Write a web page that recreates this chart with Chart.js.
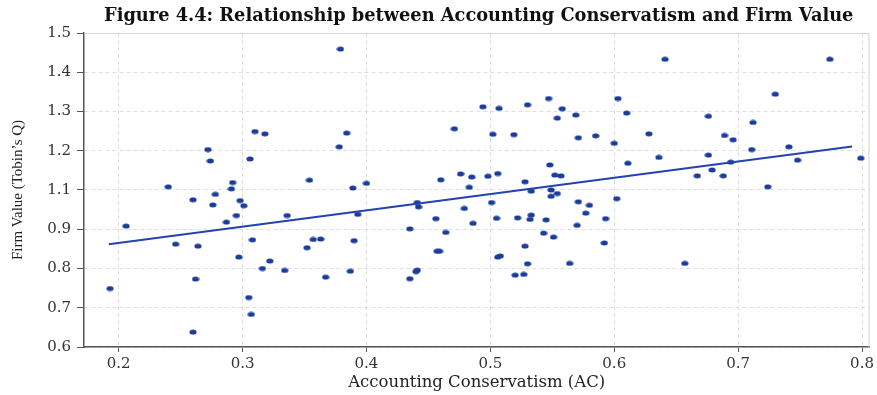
<!DOCTYPE html>
<html>
<head>
<meta charset="utf-8">
<script src="https://cdn.jsdelivr.net/npm/chart.js@4"></script>
<style>
  body { margin: 0; background: #fff; }
  #wrap { width: 877px; height: 395px; }
</style>
</head>
<body>
<div id="wrap"><canvas id="myChart"></canvas></div>
<script>
const ctx = document.getElementById("myChart");

// accounting conservatism (x) and firm value (y) for each firm
const acValues = [
  0.379, 0.310, 0.318, 0.384, 0.378, 0.272, 0.274, 0.306, 0.240, 0.292,
  0.291, 0.354, 0.389, 0.400, 0.260, 0.278, 0.276, 0.298, 0.301, 0.295,
  0.287, 0.206, 0.336, 0.393, 0.246, 0.264, 0.308, 0.352, 0.357, 0.363,
  0.390, 0.297, 0.322, 0.316, 0.334, 0.387, 0.367, 0.262, 0.193, 0.305,
  0.307, 0.260, 0.494, 0.507, 0.530, 0.547, 0.558, 0.554, 0.569, 0.471,
  0.502, 0.519, 0.571, 0.585, 0.600, 0.603, 0.548, 0.460, 0.476, 0.485,
  0.498, 0.506, 0.483, 0.528, 0.552, 0.557, 0.549, 0.533, 0.549, 0.554,
  0.441, 0.442, 0.501, 0.479, 0.602, 0.571, 0.580, 0.577, 0.456, 0.486,
  0.505, 0.522, 0.533, 0.532, 0.545, 0.593, 0.435, 0.464, 0.543, 0.551,
  0.570, 0.592, 0.528, 0.457, 0.459, 0.506, 0.508, 0.530, 0.564, 0.441,
  0.440, 0.435, 0.520, 0.527, 0.641, 0.774, 0.610, 0.730, 0.676, 0.712,
  0.628, 0.689, 0.696, 0.636, 0.611, 0.676, 0.711, 0.741, 0.748, 0.799,
  0.694, 0.667, 0.679, 0.688, 0.724, 0.657
];
const firmValues = [
  1.359, 1.149, 1.143, 1.145, 1.110, 1.103, 1.074, 1.079, 1.008, 1.019,
  1.003, 1.025, 1.005, 1.017, 0.975, 0.989, 0.962, 0.973, 0.960, 0.935,
  0.918, 0.908, 0.935, 0.938, 0.862, 0.857, 0.873, 0.853, 0.874, 0.875,
  0.871, 0.829, 0.819, 0.800, 0.795, 0.793, 0.778, 0.773, 0.749, 0.726,
  0.683, 0.638, 1.212, 1.208, 1.217, 1.233, 1.207, 1.183, 1.191, 1.156,
  1.142, 1.141, 1.133, 1.138, 1.119, 1.233, 1.064, 1.026, 1.041, 1.033,
  1.035, 1.042, 1.007, 1.021, 1.038, 1.036, 1.000, 0.997, 0.984, 0.991,
  0.968, 0.957, 0.968, 0.953, 0.978, 0.970, 0.961, 0.941, 0.927, 0.915,
  0.928, 0.929, 0.936, 0.925, 0.924, 0.927, 0.901, 0.892, 0.890, 0.880,
  0.910, 0.865, 0.857, 0.844, 0.844, 0.829, 0.832, 0.812, 0.813, 0.796,
  0.792, 0.774, 0.783, 0.785, 1.333, 1.333, 1.196, 1.244, 1.188, 1.172,
  1.143, 1.139, 1.128, 1.083, 1.068, 1.089, 1.103, 1.110, 1.076, 1.081,
  1.071, 1.036, 1.051, 1.036, 1.008, 0.813
];

// fitted line end points
const fitX = [0.192, 0.792];
const fitY = [0.862, 1.111];

const xTickValues = [0.2, 0.3, 0.4, 0.5, 0.6, 0.7, 0.8];
// the original figure skips the 1.0 label on its y axis
const yTickLabels = ["0.6", "0.7", "0.8", "0.9", "1.1", "1.2", "1.3", "1.4", "1.5"];

const chartTitle = "Figure 4.4: Relationship between Accounting Conservatism and Firm Value";

// the figure is stretched sideways, so the dots are small ellipses
const dot = document.createElement("canvas");
dot.width = 8;
dot.height = 6;
const dctx = dot.getContext("2d");
dctx.fillStyle = "#1a3c9c";
dctx.beginPath();
dctx.ellipse(4, 3, 3.6, 2.5, 0, 0, Math.PI * 2);
dctx.fill();

const serif = "'DejaVu Serif', 'Liberation Serif', serif";

// light frame on top and right, title centred over the plot area
const frame = {
  id: "frame",
  beforeDatasetsDraw(chart) {
    const { ctx: c, chartArea: a } = chart;
    c.save();
    c.strokeStyle = "#d4d4d4";
    c.lineWidth = 1;
    c.beginPath();
    c.moveTo(a.left, a.top + 0.5);
    c.lineTo(a.right - 0.5, a.top + 0.5);
    c.lineTo(a.right - 0.5, a.bottom);
    c.stroke();
    c.restore();
  },
  afterDraw(chart) {
    const { ctx: c, chartArea: a } = chart;
    c.save();
    c.font = "bold 17.8px " + serif;
    c.fillStyle = "#111";
    c.textAlign = "center";
    c.textBaseline = "middle";
    c.fillText(chartTitle, (a.left + a.right) / 2 + 2, 16);
    c.restore();
  },
};

new Chart(ctx, {
  type: "scatter",
  data: {
    datasets: [
      {
        type: "line",
        label: "Fitted",
        data: fitX.map((x, i) => ({ x: x, y: fitY[i] })),
        borderColor: "#2443b0",
        borderWidth: 2,
        pointRadius: 0,
        fill: false,
      },
      {
        label: "Firms",
        data: acValues.map((x, i) => ({ x: x, y: firmValues[i] })),
        pointStyle: dot,
        pointRadius: 3,
      },
    ],
  },
  plugins: [frame],
  options: {
    responsive: true,
    maintainAspectRatio: false,
    animation: false,
    layout: { padding: { top: 33, right: 4 } },
    plugins: {
      legend: { display: false },
      tooltip: { enabled: false },
      title: { display: false },
    },
    scales: {
      x: {
        type: "linear",
        min: 0.172,
        max: 0.806,
        afterBuildTicks: (s) => {
          s.ticks = xTickValues.map((v) => ({ value: v }));
        },
        afterFit: (s) => {
          s.height = 48;
        },
        ticks: {
          color: "#333",
          font: { family: serif, size: 15 },
          padding: 3,
          callback: (v) => String(v),
        },
        grid: {
          color: "#dedede",
          tickColor: "#555",
          tickLength: 5,
          tickBorderDash: [],
        },
        border: { color: "#555", width: 1.5, dash: [4, 3] },
        title: {
          display: true,
          text: "Accounting Conservatism (AC)",
          color: "#222",
          font: { family: serif, size: 16.5, lineHeight: 1.2 },
          padding: { top: 2.4, bottom: 2.4 },
        },
      },
      y: {
        type: "linear",
        min: 0.6,
        max: 1.4,
        ticks: {
          stepSize: 0.1,
          color: "#333",
          font: { family: serif, size: 15 },
          padding: 6,
          callback: (v, i) => yTickLabels[i],
        },
        afterFit: (s) => {
          s.width = 84;
        },
        grid: {
          color: "#dedede",
          tickColor: "#555",
          tickLength: 7,
          tickBorderDash: [],
        },
        border: { color: "#555", width: 1.5, dash: [4, 3] },
        title: {
          display: true,
          text: "Firm Value (Tobin\u2019s Q)",
          color: "#222",
          font: { family: "'Liberation Serif', serif", size: 15, lineHeight: 1.2 },
          padding: { top: 9, bottom: 9 },
        },
      },
    },
  },
});
</script>
</body>
</html>
